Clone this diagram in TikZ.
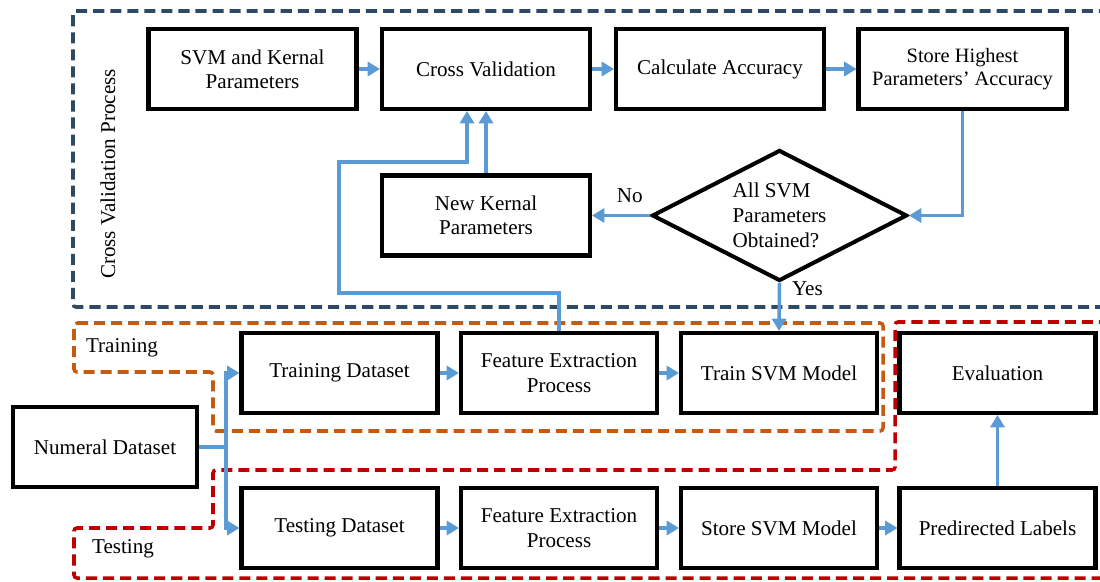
\documentclass[tikz,border=0pt]{standalone}
\usepackage{fontspec}
\setmainfont{Liberation Serif}
\usetikzlibrary{arrows.meta,shapes.geometric}

\definecolor{cvnavy}{HTML}{2E4A62}
\definecolor{trainorange}{HTML}{C55A11}
\definecolor{testred}{HTML}{C00000}
\definecolor{flowblue}{HTML}{5B9BD5}

\begin{document}
\begin{tikzpicture}[
    x=0.2mm, y=-0.2mm,
    font=\fontsize{12}{13.8}\selectfont,
    box/.style={
        draw,
        line width=2.3pt,
        minimum width=41.6mm,
        minimum height=16mm,
        align=center,
        inner sep=1pt
    },
    smallbox/.style={
        box,
        minimum width=39.2mm
    },
    decision/.style={
        draw,
        diamond,
        line width=2.3pt,
        aspect=1.95,
        minimum width=51mm,
        minimum height=26.2mm,
        inner sep=0pt,
        align=left,
        font=\fontsize{12}{14.4}\selectfont
    },
    arr/.style={
        -{Triangle[length=7pt,width=8pt]},
        flowblue,
        line width=2pt
    },
    region/.style={
        line width=2pt,
        dash pattern=on 6.3pt off 3.4pt,
        rounded corners=0.6mm
    }
]
    \useasboundingbox (0,0) rectangle (1100,581);
    \clip (0,0) rectangle (1100,581);

    % dashed regions
    \draw[region, cvnavy] (1110,11) -- (73,11) -- (73,307) -- (1110,307);
    \draw[region, trainorange] (74,323) -- (883,323) -- (883,431)
        -- (213,431) -- (213,372) -- (74,372) -- cycle;
    \draw[region, testred] (1110,322) -- (895,322) -- (895,470)
        -- (213,470) -- (213,528) -- (74,528) -- (74,578) -- (1110,578);

    \node[rotate=90] (cvlabel) at (108,174) {Cross Validation Process};
    \node (trainlabel) at (122,348) {Training};
    \node (testlabel) at (123,549) {Testing};

    % cross validation loop
    \node[box] (svmparam) at (252.5,69) {SVM and Kernal\\Parameters};
    \node[box] (crossval) at (486,69) {Cross Validation};
    \node[box] (calcacc) at (720,69) {Calculate Accuracy};
    \node[box, font=\fontsize{11.6}{13}\selectfont] (storeacc) at (962.5,69)
        {Store Highest\\Parameters' Accuracy};
    \node[box] (newkernal) at (486,215.5) {New Kernal\\Parameters};
    \node[decision] (allobt) at (779.5,215.5)
        {All SVM\\Parameters\\Obtained?};

    % training and testing rows
    \node[box, minimum width=36.8mm] (numeral) at (105,447) {Numeral Dataset};
    \node[smallbox] (traindata) at (339.5,373) {Training Dataset};
    \node[smallbox] (trainfeat) at (559,373) {Feature Extraction\\Process};
    \node[smallbox] (trainsvm) at (779,373) {Train SVM Model};
    \node[smallbox] (evaluation) at (997.5,373) {Evaluation};
    \node[smallbox] (testdata) at (339.5,528) {Testing Dataset};
    \node[smallbox] (testfeat) at (559,528) {Feature Extraction\\Process};
    \node[smallbox] (storesvm) at (779,528) {Store SVM Model};
    \node[smallbox] (predlabels) at (997.5,528) {Predirected Labels};

    \coordinate (split) at (226,447);

    \draw[arr] (svmparam) -- (crossval);
    \draw[arr] (crossval) -- (calcacc);
    \draw[arr] (calcacc) -- (storeacc);
    \draw[arr] (storeacc.south) |- (allobt.east);
    \draw[arr] (allobt.west) -- node[above, black, pos=0.35, yshift=1mm] (nolabel) {No}
        (newkernal.east);
    \draw[arr] (newkernal) -- (crossval);
    \draw[arr] (trainfeat.north) |- (339,293) -- (339,162)
        -| ([xshift=-3.8mm]crossval.south);
    \draw[arr] (allobt.south) -- node[right, black, pos=0.12, xshift=1mm] (yeslabel) {Yes}
        (trainsvm.north);

    \draw[flowblue, line width=2pt] (numeral.east) -- (split);
    \draw[arr] (split) |- (traindata.west);
    \draw[arr] (split) |- (testdata.west);
    \draw[arr] (traindata) -- (trainfeat);
    \draw[arr] (trainfeat) -- (trainsvm);
    \draw[arr] (testdata) -- (testfeat);
    \draw[arr] (testfeat) -- (storesvm);
    \draw[arr] (storesvm) -- (predlabels);
    \draw[arr] (predlabels) -- (evaluation);

\end{tikzpicture}
\end{document}
